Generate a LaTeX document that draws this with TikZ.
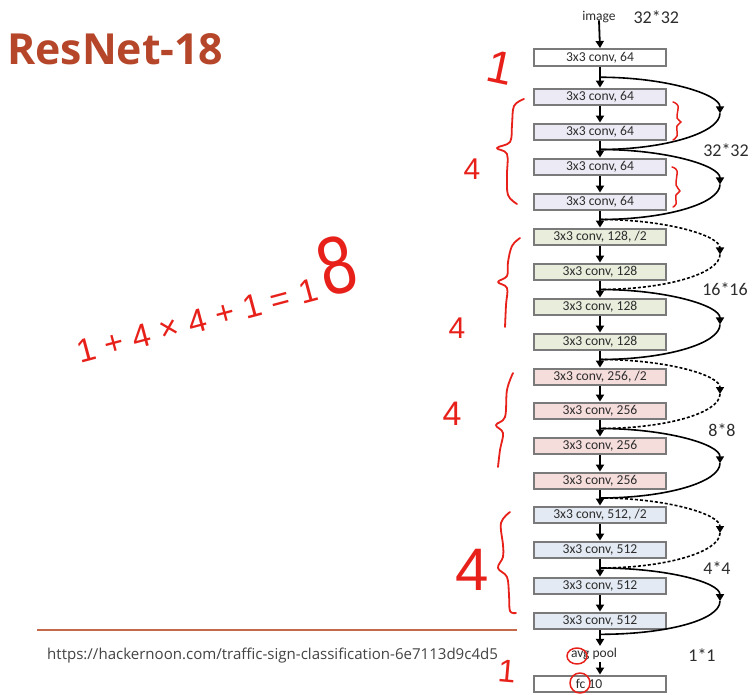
\documentclass[tikz,border=0pt]{standalone}
\usepackage{fontspec}
\setmainfont{Carlito}
\newfontfamily\titlefont{Open Sans}
\newfontfamily\handfont{Liberation Sans}
\usetikzlibrary{arrows.meta,calc}
\definecolor{boxgray}{RGB}{122,122,122}
\definecolor{txtgray}{RGB}{45,45,45}
\definecolor{cA}{RGB}{236,234,244}
\definecolor{cB}{RGB}{232,237,220}
\definecolor{cC}{RGB}{245,221,219}
\definecolor{cD}{RGB}{227,234,243}
\definecolor{titlec}{RGB}{182,70,42}
\definecolor{rulec}{RGB}{196,106,74}
\definecolor{urlc}{RGB}{68,68,68}
\definecolor{inkred}{RGB}{232,32,26}
\begin{document}
\begin{tikzpicture}[x=1pt,y=-1pt,
  layer/.style={draw=boxgray, line width=2.4pt, minimum width=131.5pt, minimum height=16.5pt,
    inner sep=0pt, font=\fontsize{13.6}{14}\selectfont, text=txtgray},
  flow/.style={-{Triangle[length=7pt,width=8pt]}, line width=1.8pt},
  skipline/.style={line width=1.6pt},
  projline/.style={line width=1.6pt, dash pattern=on 3pt off 2pt},
  tipped/.style={-{Triangle[length=7pt,width=8pt]}},
  dimlabel/.style={font=\fontsize{18}{19}\selectfont, text=txtgray},
  ink/.style={draw=inkred, line width=1.8pt, line cap=round, line join=round},
  handnum/.style={text=inkred, font=\handfont\fontsize{#1}{#1}\selectfont, inner sep=0pt}
]
\useasboundingbox (0,0) rectangle (753,695);
\fill[white] (0,0) rectangle (753,695);

% title, rule, url
\node[anchor=base west, inner sep=0pt, text=titlec, font=\titlefont\bfseries\fontsize{42.8}{44}\selectfont] (title) at (7,65) {ResNet-18};
\draw[rulec, line width=1.5pt] (37,630) -- (517,630);
\node[anchor=base west, inner sep=0pt, text=urlc, font=\titlefont\fontsize{15.05}{16}\selectfont] (url) at (47,659) {https://hackernoon.com/traffic-sign-classification-6e7113d9c4d5};

% network
\node[font=\fontsize{13.5}{14}\selectfont, text=txtgray] (img) at (599,17) {image};
\node[dimlabel, anchor=west] (top) at (630,17) {32*32};
\node[layer, fill=white] (c1) at (600,57.5) {3x3 conv, 64};
\node[layer, fill=cA] (a1) at (600,97) {3x3 conv, 64};
\node[layer, fill=cA] (a2) at (600,132) {3x3 conv, 64};
\node[layer, fill=cA] (a3) at (600,167) {3x3 conv, 64};
\node[layer, fill=cA] (a4) at (600,202) {3x3 conv, 64};
\node[layer, fill=cB] (b1) at (600,237) {3x3 conv, 128, /2};
\node[layer, fill=cB] (b2) at (600,272) {3x3 conv, 128};
\node[layer, fill=cB] (b3) at (600,307) {3x3 conv, 128};
\node[layer, fill=cB] (b4) at (600,342) {3x3 conv, 128};
\node[layer, fill=cC] (d1) at (600,377) {3x3 conv, 256, /2};
\node[layer, fill=cC] (d2) at (600,411) {3x3 conv, 256};
\node[layer, fill=cC] (d3) at (600,446) {3x3 conv, 256};
\node[layer, fill=cC] (d4) at (600,481) {3x3 conv, 256};
\node[layer, fill=cD] (e1) at (600,515) {3x3 conv, 512, /2};
\node[layer, fill=cD] (e2) at (600,550) {3x3 conv, 512};
\node[layer, fill=cD] (e3) at (600,586) {3x3 conv, 512};
\node[layer, fill=cD] (e4) at (600,621) {3x3 conv, 512};
\node[font=\fontsize{13.5}{14}\selectfont, text=txtgray, inner sep=2pt] (pool) at (594,654) {avg pool};
\node[layer, fill=white] (fc) at (600,684) {\hspace*{-11pt}fc 10\hspace*{11pt}};

\draw[flow] ([yshift=6pt]img.south) -- (c1.north);
\foreach \p/\q in {c1/a1,a1/a2,a2/a3,a3/a4,a4/b1,b1/b2,b2/b3,b3/b4,b4/d1,d1/d2,d2/d3,d3/d4,d4/e1,e1/e2,e2/e3,e3/e4}
  \draw[flow] (\p.south) -- (\q.north);
\draw[flow] (e4.south) -- (e4.south |- pool.north);
\draw[flow] (fc.north |- pool.south) -- (fc.north);

% shortcut connections
\foreach \n/\pa/\na/\pb/\nb/\f/\sty in {1/c1/a1/a2/a3/0.5/skipline, 2/a2/a3/a4/b1/0.5/skipline,
  3/a4/b1/b2/b3/0.5/projline, 4/b2/b3/b4/d1/0.5/skipline,
  5/b4/d1/d2/d3/0.5/projline, 6/d2/d3/d4/e1/0.5/skipline,
  7/d4/e1/e2/e3/0.5/projline, 8/e2/e3/e4/pool/0.25/skipline}{
  \coordinate (s\n) at ($(\pa.south)!0.5!(\na.north)$);
  \coordinate (t\n) at ($(\pb.south)!\f!(\pb.south |- \nb.north)$);
  \coordinate (m\n) at ($(s\n)!0.5!(t\n)+(120,0)$);
  \draw[\sty, tipped] (s\n) .. controls +(66,0) and +(0,-19) .. (m\n);
  \draw[\sty] (m\n) .. controls +(0,19) and +(66,0) .. (t\n);
}

\node[dimlabel] (l1) at (726,150) {32*32};
\node[dimlabel] (l2) at (725,289) {16*16};
\node[dimlabel] (l3) at (722,430) {8*8};
\node[dimlabel] (l4) at (717,568) {4*4};
\node[dimlabel] (l5) at (702,655) {1*1};

% handwritten annotations
\draw[ink] plot[smooth, tension=0.6] coordinates {(524,99) (514,106) (512,125) (510,142) (497,148) (507,154) (507,175) (508,195) (517,204)};
\draw[ink] plot[smooth, tension=0.6] coordinates {(520,238) (512,246) (508,262) (507,276) (498,282) (507,288) (506,305) (505,327)};
\draw[ink] plot[smooth, tension=0.6] coordinates {(513,373) (507,390) (505,417) (496,425) (503,433) (500,450) (498,467)};
\draw[ink] plot[smooth, tension=0.6] coordinates {(510,512) (501,523) (503,545) (503,557) (498,568) (507,577) (509,595) (510,611) (516,613)};
\draw[ink, line width=1.5pt] plot[smooth, tension=0.6] coordinates {(673,102) (678,106) (677,118) (681,122) (677,126) (677,136) (673,140)};
\draw[ink, line width=1.5pt] plot[smooth, tension=0.6] coordinates {(672,167) (677,171) (676,185) (680,191) (676,195) (676,204) (673,207)};
\draw[ink, line width=1.5pt] (577,656) ellipse [x radius=10pt, y radius=8pt];
\draw[ink, line width=1.5pt] (580,683) ellipse [x radius=10pt, y radius=10pt];

\node[handnum=46, anchor=base, rotate=-12] (h1) at (497,83) {1};
\node[handnum=30, anchor=base] (h2) at (472,180) {4};
\node[handnum=30, anchor=base] (h3) at (457,338) {4};
\node[handnum=34, anchor=base] (h4) at (452,425) {4};
\node[handnum=60, anchor=base] (h5) at (472,590) {4};
\node[handnum=32, anchor=base, rotate=-5] (h6) at (506,682) {1};
\node[handnum=33, anchor=base west, rotate=15] (eq) at (80,364)
  {\addfontfeature{LetterSpace=30}1+4×4+1=1\kern7pt\scalebox{0.8}[1]{\fontsize{82}{82}\selectfont 8}};
\end{tikzpicture}
\end{document}
